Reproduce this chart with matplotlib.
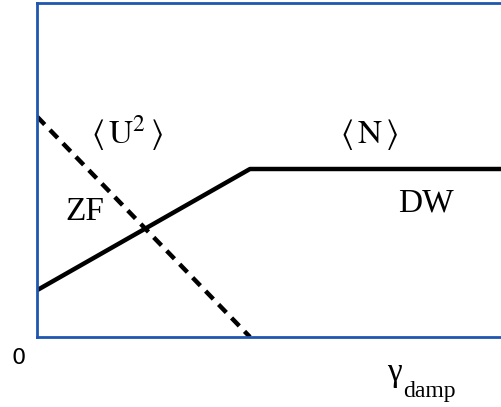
import matplotlib as mpl
import matplotlib.pyplot as plt

mpl.use('agg')
plt.rcParams['mathtext.fontset'] = 'stix'

# schematic: <N> rises then saturates, <U^2> falls to zero
gamma_n = [0.0, 0.459, 1.0]
n_vals = [0.14, 0.503, 0.503]
gamma_u = [0.0, 0.459]
u_vals = [0.66, 0.0]

fig = plt.figure(figsize=(5.01, 4.07), dpi=100)
ax = fig.add_axes([37 / 501, 70 / 407, 464 / 501, 334 / 407])

ax.plot(gamma_n, n_vals, color='black', lw=3.2, solid_capstyle='butt')
ax.plot(gamma_u, u_vals, color='black', lw=3.2, linestyle=(0, (2.5, 1.7)))

ax.set_xlim(0, 1)
ax.set_ylim(0, 1)
ax.set_xticks([])
ax.set_yticks([])
for s in ['left', 'bottom', 'top']:
    ax.spines[s].set_color('#1f56b0')
    ax.spines[s].set_linewidth(2.0)
ax.spines['right'].set_visible(False)

serif = 'Liberation Serif'
ax.text(0.194, 0.611, r'$\langle\,\mathrm{U}^{2}\,\rangle$', transform=ax.transAxes,
        ha='center', va='center', fontsize=24)
ax.text(0.716, 0.605, r'$\langle\,\mathrm{N}\,\rangle$', transform=ax.transAxes,
        ha='center', va='center', fontsize=24)
ax.text(0.103, 0.374, 'ZF', transform=ax.transAxes, ha='center', va='center',
        fontsize=24, family=serif)
ax.text(0.838, 0.401, 'DW', transform=ax.transAxes, ha='center', va='center',
        fontsize=24, family=serif)

fig.text(0.038, 0.120, '0', ha='center', va='center', fontsize=16)
fig.text(387 / 501, 1 - 358 / 407, 'γ', ha='left', va='top', fontsize=24,
         family=serif)
fig.text(403 / 501, 1 - 397 / 407, 'damp', ha='left', va='baseline',
         fontsize=17, family=serif)

plt.savefig('out.png', dpi=100)
plt.close(fig)
